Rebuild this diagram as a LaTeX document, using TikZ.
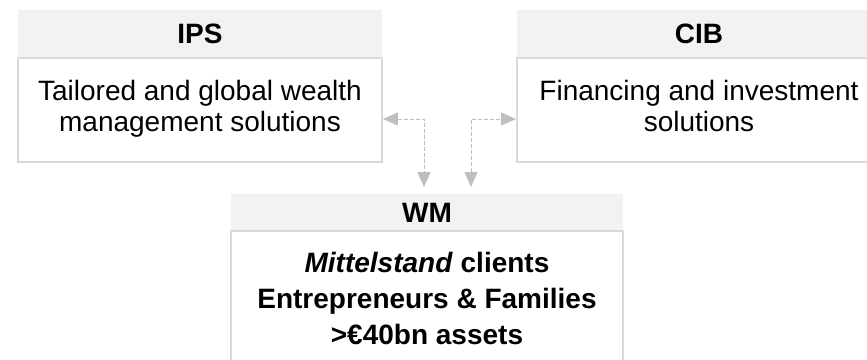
\documentclass[tikz,border=0pt]{standalone}
\usepackage{fontspec}
\setmainfont{Liberation Sans}
\usetikzlibrary{arrows.meta}
\definecolor{headfill}{HTML}{F2F2F2}
\definecolor{boxline}{HTML}{D9D9D9}
\definecolor{connline}{HTML}{BFBFBF}
\begin{document}
\begin{tikzpicture}[x=1pt,y=-1pt,
  headbox/.style={rectangle,fill=headfill,draw=none,inner sep=0pt,
    font=\fontsize{28}{31}\selectfont\bfseries},
  bodybox/.style={rectangle,draw=boxline,line width=1.8pt,fill=white,inner sep=0pt},
  bodytext/.style={anchor=base,inner sep=0pt,font=\fontsize{28}{31}\selectfont},
  wmtextstyle/.style={anchor=base,inner sep=0pt,font=\fontsize{28}{36}\selectfont\bfseries},
  conn/.style={draw=connline,line width=1pt,dash pattern=on 4pt off 2pt,
    {Triangle[length=15pt,width=13pt,fill=connline]}-{Triangle[length=15pt,width=13pt,fill=connline]}}
]
\useasboundingbox (0,0) rectangle (867,359);
\clip (0,0) rectangle (867,359);
\fill[white] (0,0) rectangle (867,359);

% IPS
\node[headbox,minimum width=364pt,minimum height=48pt] (ipshead) at (200,34) {IPS};
\node[bodybox,minimum width=364pt,minimum height=104pt] (ipsbody) at (200,110) {};
\node[bodytext] (ipstext) at (200,100)
  {\begin{tabular}[t]{@{}c@{}}Tailored and global wealth\\management solutions\end{tabular}};

% CIB
\node[headbox,minimum width=364pt,minimum height=48pt] (cibhead) at (699,34) {CIB};
\node[bodybox,minimum width=364pt,minimum height=104pt] (cibbody) at (699,110) {};
\node[bodytext] (cibtext) at (699,100)
  {\begin{tabular}[t]{@{}c@{}}Financing and investment\\solutions\end{tabular}};

% WM
\node[headbox,minimum width=392pt,minimum height=37pt] (wmhead) at (427,212.5) {WM};
\node[bodybox,minimum width=392pt,minimum height=190pt] (wmbody) at (427,326) {};
\node[wmtextstyle] (wmtext) at (427,272)
  {\begin{tabular}[t]{@{}c@{}}\textit{Mittelstand} clients\\Entrepreneurs \& Families\\>€40bn assets\end{tabular}};

% connectors
\coordinate (la) at (424,187);
\coordinate (ra) at (471,187);
\draw[conn] ([yshift=-9pt]ipsbody.east) -| (la);
\draw[conn] (ra) |- ([yshift=-9pt]cibbody.west);
\end{tikzpicture}
\end{document}
